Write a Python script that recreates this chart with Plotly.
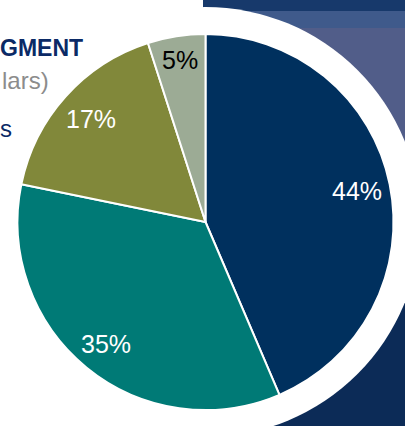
import math
import plotly.graph_objects as go

# Segment shares (percent), clockwise from 12 o'clock
segments = ["Segment A", "Segment B", "Segment C", "Segment D"]
shares = [44, 35, 17, 5]
slice_colors = ["#00305E", "#007A76", "#81883A", "#9CAB95"]
label_colors = ["white", "white", "white", "black"]

# Heading fragments shown at the left edge
heading_lines = ["GMENT", "lars)", "s"]

# Canvas geometry (pixels)
W, H = 405, 426
CX, CY = 205.5, 222.0      # pie centre, measured from the top-left corner
R = 188.0                  # pie radius
R_RING = 215.0             # white disc behind the pie
LABEL_R = [0.82, 0.84, 0.82, 0.87]  # label distance from centre, as a fraction of R
FONT = "Liberation Sans, Arial, sans-serif"


def px(x):
    return x / W


def py(y):
    return 1 - y / H


fig = go.Figure()

fig.add_trace(go.Pie(
    labels=segments,
    values=shares,
    sort=False,
    direction="clockwise",
    rotation=0,
    marker=dict(colors=slice_colors, line=dict(color="white", width=2)),
    textinfo="none",
    hoverinfo="label+value",
    showlegend=False,
    domain=dict(x=[px(CX - R), px(CX + R)], y=[py(CY + R), py(CY - R)]),
))

# Percentage labels placed at each slice's mid-angle
total = sum(shares)
acc = 0.0
annotations = []
for val, col, rf in zip(shares, label_colors, LABEL_R):
    mid = (acc + val / 2) / total * 2 * math.pi
    acc += val
    lx = CX + rf * R * math.sin(mid)
    ly = CY - rf * R * math.cos(mid)
    annotations.append(dict(
        x=px(lx), y=py(ly), xref="paper", yref="paper",
        text=f"{val}%", showarrow=False,
        xanchor="center", yanchor="middle",
        font=dict(family=FONT, size=25, color=col),
    ))

# Heading text on the left
annotations += [
    dict(x=0, y=py(48), xref="paper", yref="paper", text=f"<b>{heading_lines[0]}</b>",
         showarrow=False, xanchor="left", yanchor="middle", xshift=-2,
         font=dict(family=FONT, size=23, color="#0B2A66")),
    dict(x=0, y=py(80), xref="paper", yref="paper", text=heading_lines[1],
         showarrow=False, xanchor="left", yanchor="middle",
         font=dict(family=FONT, size=24, color="#8C8C8C")),
    dict(x=0, y=py(128), xref="paper", yref="paper", text=heading_lines[2],
         showarrow=False, xanchor="left", yanchor="middle", xshift=-2,
         font=dict(family=FONT, size=24, color="#0B2A66")),
]

# Backdrop panel on the right and the white disc framing the pie
BX = 203
shapes = [
    dict(type="rect", xref="paper", yref="paper", x0=px(BX), x1=1, y0=0, y1=1,
         fillcolor="#0C2B57", line_width=0, layer="below"),
    dict(type="rect", xref="paper", yref="paper", x0=px(BX), x1=1, y0=py(250), y1=1,
         fillcolor="#515D89", line_width=0, layer="below"),
    dict(type="rect", xref="paper", yref="paper", x0=px(BX), x1=1, y0=py(28), y1=1,
         fillcolor="#3F5A8B", line_width=0, layer="below"),
    dict(type="rect", xref="paper", yref="paper", x0=px(BX), x1=1, y0=py(11), y1=1,
         fillcolor="#17396B", line_width=0, layer="below"),
    dict(type="circle", xref="paper", yref="paper",
         x0=px(CX - R_RING), x1=px(CX + R_RING),
         y0=py(CY + R_RING), y1=py(CY - R_RING),
         fillcolor="white", line_width=0, layer="below"),
]

fig.update_layout(
    width=W, height=H,
    margin=dict(l=0, r=0, t=0, b=0),
    paper_bgcolor="white",
    plot_bgcolor="white",
    shapes=shapes,
    annotations=annotations,
)

fig.write_html("out.html")
